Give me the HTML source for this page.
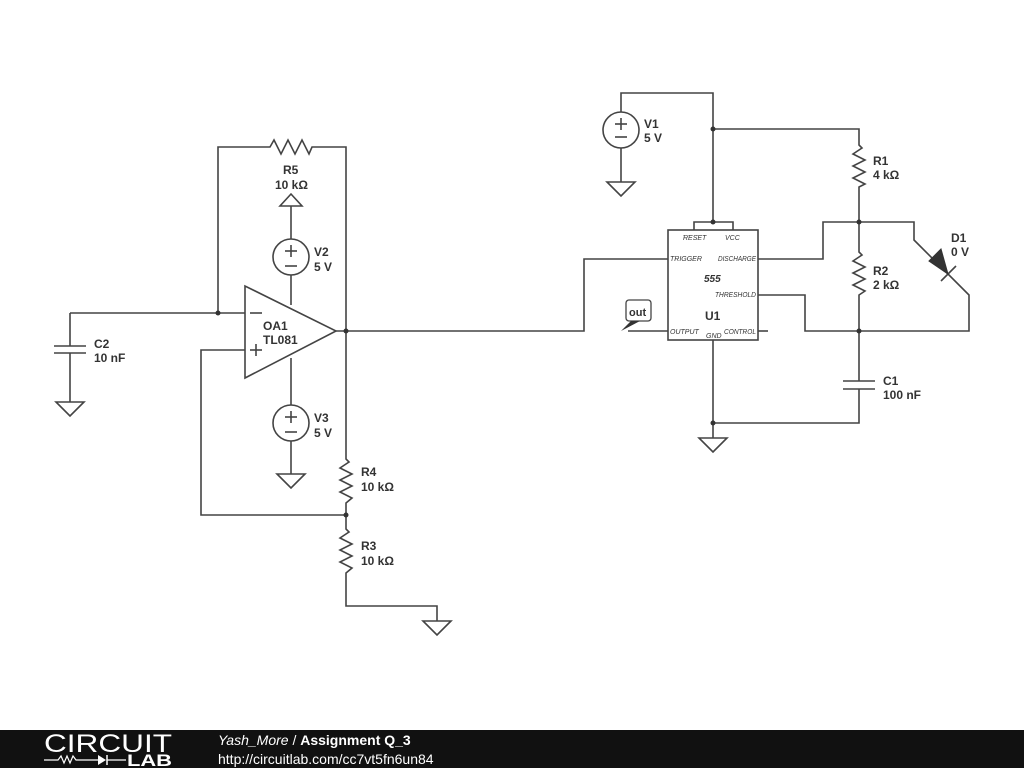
<!DOCTYPE html>
<html><head><meta charset="utf-8"><style>
html,body{margin:0;padding:0;background:#fff;width:1024px;height:768px;overflow:hidden}
svg{display:block}
text{font-family:"Liberation Sans","DejaVu Sans",sans-serif;fill:#333}
.l{font-size:12px;font-weight:bold}
.p{font-size:7px;font-style:italic}
</style></head><body>
<svg width="1024" height="768" viewBox="0 0 1024 768">
<g fill="none" stroke="#444" stroke-width="1.6" stroke-linejoin="miter">
<polygon points="245,286 245,378 336,331"/>
<line x1="250" y1="313" x2="262" y2="313"/>
<line x1="250" y1="350" x2="262" y2="350"/><line x1="256" y1="344" x2="256" y2="356"/>
<polyline points="70,313 245,313"/>
<polyline points="218,313 218,147 270,147 274,140 281,154 288,140 295,154 302,140 309,154 312,147 346,147 346,459 349,462 340,468 352,474 340,480 352,486 340,492 352,498 346,503 346,529 349,532 340,538 352,544 340,550 352,556 340,562 352,568 346,573 346,606 437,606 437,621"/>
<polygon points="423,621 451,621 437,635"/>
<polyline points="245,350 201,350 201,515 346,515"/>
<polyline points="336,331 584,331 584,259 668,259"/>
<polyline points="70,313 70,346"/><line x1="54" y1="346" x2="86" y2="346"/><line x1="54" y1="353" x2="86" y2="353"/>
<polyline points="70,353 70,402"/><polygon points="56,402 84,402 70,416"/>
<polygon points="280,206 302,206 291,194"/>
<line x1="291" y1="206" x2="291" y2="239"/>
<circle cx="291" cy="257" r="18"/>
<line x1="285" y1="251" x2="297" y2="251"/><line x1="291" y1="245" x2="291" y2="257"/><line x1="285" y1="266" x2="297" y2="266"/>
<line x1="291" y1="275" x2="291" y2="305"/>
<line x1="291" y1="358" x2="291" y2="405"/>
<circle cx="291" cy="423" r="18"/>
<line x1="285" y1="417" x2="297" y2="417"/><line x1="291" y1="411" x2="291" y2="423"/><line x1="285" y1="432" x2="297" y2="432"/>
<line x1="291" y1="441" x2="291" y2="474"/><polygon points="277,474 305,474 291,488"/>
<circle cx="621" cy="130" r="18"/>
<line x1="615" y1="124" x2="627" y2="124"/><line x1="621" y1="118" x2="621" y2="130"/><line x1="615" y1="137" x2="627" y2="137"/>
<polyline points="621,112 621,93 713,93 713,222"/>
<polyline points="621,148 621,182"/><polygon points="607,182 635,182 621,196"/>
<rect x="668" y="230" width="90" height="110"/>
<polyline points="694,230 694,222 733,222 733,230"/>
<polyline points="713,129 859,129 859,145 862,148 853,154 865,160 853,166 865,172 853,178 865,184 859,187 859,252 862,255 853,261 865,267 853,273 865,279 853,285 865,291 859,295 859,381"/>
<line x1="843" y1="381" x2="875" y2="381"/><line x1="843" y1="389" x2="875" y2="389"/>
<polyline points="859,389 859,423 713,423"/>
<polyline points="713,340 713,438"/><polygon points="699,438 727,438 713,452"/>
<polyline points="758,259 823,259 823,222 914,222 914,240 969,295 969,331 805,331 805,295 758,295"/>
<line x1="758" y1="331" x2="768" y2="331"/>
<line x1="628" y1="331" x2="668" y2="331"/>
<line x1="941" y1="281" x2="956" y2="266"/>
</g>
<polygon points="929,261 941,249 948,274" fill="#333" stroke="#333" stroke-width="1"/>
<g fill="#333">
<circle cx="218" cy="313" r="2.5"/><circle cx="346" cy="331" r="2.5"/><circle cx="346" cy="515" r="2.5"/>
<circle cx="713" cy="129" r="2.5"/><circle cx="713" cy="222" r="2.5"/><circle cx="859" cy="222" r="2.5"/>
<circle cx="859" cy="331" r="2.5"/><circle cx="713" cy="423" r="2.5"/>
</g>
<rect x="626" y="300" width="25" height="21" rx="3" fill="#fff" stroke="#444" stroke-width="1.3"/>
<polygon points="631,321 640,321 621,331" fill="#333"/>
<text x="629" y="316" font-size="11" font-weight="bold">out</text>
<text class="l" x="283" y="174">R5</text><text class="l" x="275" y="189">10 kΩ</text>
<text class="l" x="314" y="256">V2</text><text class="l" x="314" y="271">5 V</text>
<text class="l" x="263" y="330">OA1</text><text class="l" x="263" y="344">TL081</text>
<text class="l" x="314" y="422">V3</text><text class="l" x="314" y="437">5 V</text>
<text class="l" x="361" y="476">R4</text><text class="l" x="361" y="491">10 kΩ</text>
<text class="l" x="361" y="550">R3</text><text class="l" x="361" y="565">10 kΩ</text>
<text class="l" x="94" y="348">C2</text><text class="l" x="94" y="362">10 nF</text>
<text class="l" x="644" y="128">V1</text><text class="l" x="644" y="142">5 V</text>
<text class="l" x="873" y="165">R1</text><text class="l" x="873" y="179">4 kΩ</text>
<text class="l" x="873" y="275">R2</text><text class="l" x="873" y="289">2 kΩ</text>
<text class="l" x="951" y="242">D1</text><text class="l" x="951" y="256">0 V</text>
<text class="l" x="883" y="385">C1</text><text class="l" x="883" y="399">100 nF</text>
<text class="p" x="683" y="240" text-decoration="overline">RESET</text>
<text class="p" x="725" y="240">VCC</text>
<text class="p" x="670" y="261">TRIGGER</text>
<text class="p" x="718" y="261" textLength="38" lengthAdjust="spacingAndGlyphs">DISCHARGE</text>
<text class="p" x="715" y="297" textLength="41" lengthAdjust="spacingAndGlyphs">THRESHOLD</text>
<text class="p" x="670" y="334">OUTPUT</text>
<text class="p" x="706" y="338">GND</text>
<text class="p" x="724" y="334" textLength="32" lengthAdjust="spacingAndGlyphs">CONTROL</text>
<text x="704" y="282" font-size="10" font-style="italic" font-weight="bold">555</text>
<text class="l" x="705" y="320">U1</text>
<rect x="0" y="730" width="1024" height="38" fill="#111"/>
<text x="44" y="752" font-size="25" textLength="128" lengthAdjust="spacingAndGlyphs" style="fill:#fff">CIRCUIT</text>
<polyline points="44,760 58,760 61,756 64,763 67,756 70,763 73,756 76,760 98,760" fill="none" stroke="#fff" stroke-width="1.2"/>
<polygon points="98,755 98,765 106,760" fill="#fff"/><line x1="107" y1="755" x2="107" y2="765" stroke="#fff" stroke-width="1.5"/>
<line x1="107" y1="760" x2="126" y2="760" stroke="#fff" stroke-width="1.2"/>
<text x="127" y="766" font-size="17" font-weight="bold" textLength="45" lengthAdjust="spacingAndGlyphs" style="fill:#fff">LAB</text>
<text x="218" y="745" font-size="14" style="fill:#fff"><tspan font-style="italic">Yash_More</tspan> / <tspan font-weight="bold">Assignment Q_3</tspan></text>
<text x="218" y="764" font-size="14" style="fill:#fff">http://circuitlab.com/cc7vt5fn6un84</text>
</svg>
</body></html>
